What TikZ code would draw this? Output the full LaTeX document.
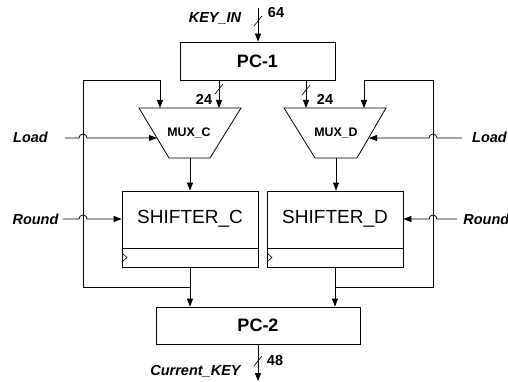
\documentclass[tikz,border=0pt]{standalone}
\usepackage{fontspec}
\setmainfont{Liberation Sans}
\usetikzlibrary{arrows.meta}
\begin{document}
\begin{tikzpicture}[x=1pt,y=-1pt,line width=0.8pt,
  arr/.style={-{Triangle[length=8pt,width=6pt]}},
  blk/.style={draw,inner sep=0pt,line width=0.8pt},
  sig/.style={font=\bfseries\itshape\fontsize{14.5}{17}\selectfont,inner sep=0pt},
  wid/.style={font=\bfseries\fontsize{14.5}{17}\selectfont,inner sep=0pt},
  pcl/.style={font=\bfseries\fontsize{18}{21}\selectfont},
  shl/.style={font=\fontsize{19}{22}\selectfont,inner sep=0pt},
  muxl/.style={font=\bfseries\fontsize{12.4}{14}\selectfont,inner sep=0pt},
  busmark/.style={line width=0.6pt}]
\useasboundingbox (0,0) rectangle (508,382);
% blocks
\node[blk,minimum width=155pt,minimum height=38pt,pcl] (pc1) at (257.5,61) {PC-1};
\node[blk,minimum width=204pt,minimum height=37pt,pcl] (pc2) at (258,325.5) {PC-2};
\node[blk,minimum width=136pt,minimum height=76pt] (sc) at (190,229) {};
\node[blk,minimum width=136pt,minimum height=76pt] (sd) at (335,229) {};
\draw ([yshift=19pt]sc.south west) -- ([yshift=19pt]sc.south east);
\draw ([yshift=19pt]sd.south west) -- ([yshift=19pt]sd.south east);
\node[shl] (sct) at ([yshift=10pt]sc.center) {SHIFTER\_C};
\node[shl] (sdt) at ([yshift=10pt]sd.center) {SHIFTER\_D};
% clock marks
\draw[line width=0.6pt] (122,253) -- (127,257.5) -- (122,262);
\draw[line width=0.6pt] (267,253) -- (272,257.5) -- (267,262);
% muxes
\draw (139,108) -- (241,108) -- (210,158) -- (169,158) -- cycle;
\draw (284,108) -- (386,108) -- (357,158) -- (315,158) -- cycle;
\node[muxl] (muxc) at (189,133) {MUX\_C};
\node[muxl] (muxd) at (336,133) {MUX\_D};
\coordinate (mcA) at (160,108);
\coordinate (mcB) at (219,108);
\coordinate (mcL) at (157,138);
\coordinate (mcO) at (190,158);
\coordinate (mdA) at (306,108);
\coordinate (mdB) at (364,108);
\coordinate (mdR) at (369,138);
\coordinate (mdO) at (336,158);
% mux to shifter
\draw[arr] (mcO) -- (mcO |- sc.north);
\draw[arr] (mdO) -- (mdO |- sd.north);
% PC-1 to muxes
\draw[arr] (mcB |- pc1.south) -- (mcB);
\draw[arr] (mdA |- pc1.south) -- (mdA);
\draw[busmark] (215,94) -- (223,84);
\draw[busmark] (302,95) -- (310,85);
\node[wid] (w24a) at (204,99) {24};
\node[wid] (w24b) at (325,99) {24};
% feedback loops
\coordinate (fcl) at (83,287);
\coordinate (fdr) at (433,287);
\draw[arr] (sc.south) -- (sc.south |- pc2.north);
\draw[arr] (sd.south) -- (sd.south |- pc2.north);
\draw[arr] (sc.south |- fcl) -- (fcl) -- (83,80) -- (160,80) -- (mcA);
\draw[arr] (sd.south |- fdr) -- (fdr) -- (433,80) -- (364,80) -- (mdB);
% Load / Round inputs with hops
\node[sig] (loadl) at (30.5,137) {Load};
\node[sig] (loadr) at (489.5,137) {Load};
\node[sig] (roundl) at (35.5,219) {Round};
\node[sig,anchor=west] (roundr) at (463,219) {Round};
\draw[arr] (65,138) -- (79,138) arc[start angle=180,end angle=0,radius=4pt] -- (mcL);
\draw[arr] (462,138) -- (437,138) arc[start angle=0,end angle=180,radius=4pt] -- (mdR);
\draw[arr] (63,219) -- (79,219) arc[start angle=180,end angle=0,radius=4pt] -- ([yshift=10pt]sc.west);
\draw[arr] (457,219) -- (437,219) arc[start angle=0,end angle=180,radius=4pt] -- ([yshift=10pt]sd.east);
% key in / out
\node[sig] (kin) at (215,18) {KEY\_IN};
\node[wid] (w64) at (276,13) {64};
\coordinate (kintop) at (258,8);
\draw[arr] (kintop) -- (kintop |- pc1.north);
\draw[busmark] (254,26) -- (262,16);
\coordinate (kout) at (258,381);
\draw[arr] (kout |- pc2.south) -- (kout);
\draw[busmark] (254,366) -- (262,356);
\node[wid] (w48) at (275,361) {48};
\node[sig] (cur) at (195.5,371) {Current\_KEY};
\end{tikzpicture}
\end{document}
